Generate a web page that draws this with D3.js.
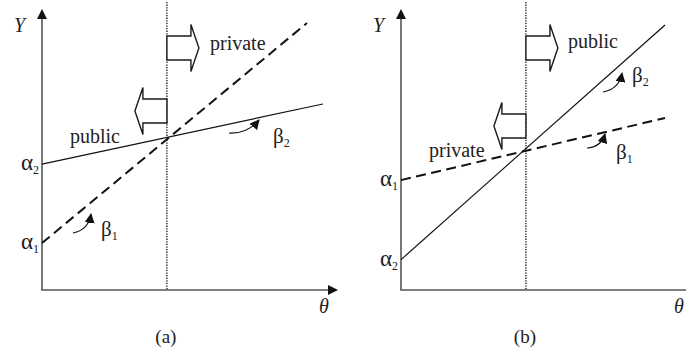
<!DOCTYPE html>
<html><head><meta charset="utf-8">
<script src="https://cdn.jsdelivr.net/npm/d3@7"></script>
<style>body{margin:0;background:#fff}svg{display:block}text{font-family:"Liberation Serif","DejaVu Serif",serif;fill:#222}</style>
</head><body>
<svg id="c" width="686" height="349"></svg>
<script>
// ---- data (θ, Y in abstract units 0..1) ----
const panels = ["(a)", "(b)"];
const thetaStar = [0.422, 0.422];
// solid line (public)
const solidLine = [
  [[0, 0.448], [0.949, 0.662]],
  [[0, 0.108], [0.892, 0.943]]
];
// dashed line (private)
const dashedLine = [
  [[0, 0.167], [0.895, 0.950]],
  [[0, 0.391], [0.892, 0.612]]
];
const solidName = ["public", "public"];
const dashedName = ["private", "private"];
const interceptLabels = [["2", "1"], ["2", "1"]]; // subscripts for solid, dashed
const slopeLabels = [["2", "1"], ["2", "1"]];

const FONT = "'Liberation Serif','DejaVu Serif',serif";
const svg = d3.select("#c");
const defs = svg.append("defs");
defs.append("marker").attr("id","ah").attr("viewBox","0 0 10 10").attr("refX",9).attr("refY",5)
  .attr("markerWidth",10).attr("markerHeight",10).attr("markerUnits","userSpaceOnUse").attr("orient","auto")
  .append("path").attr("d","M0,0 L10,5 L0,10 Z").attr("fill","#111");

const W = 296, panelX = [42, 401], yTop = 9, yBot = 290;

function txt(g, x, y, s, size, opts) {
  opts = opts || {};
  return g.append("text").attr("x", x).attr("y", y).attr("font-family", FONT).attr("font-size", size)
    .attr("font-style", opts.italic ? "italic" : "normal").attr("text-anchor", opts.anchor || "start").text(s);
}

function greek(g, x, y, ch, sub, anchor, size) {
  const t = g.append("text").attr("x", x).attr("y", y).attr("font-family", FONT).attr("font-size", size || 21).attr("text-anchor", anchor || "start");
  t.append("tspan").text(ch);
  t.append("tspan").attr("font-size", 12).attr("dy", 4).text(sub);
  return t;
}

function bigArrow(g, x0, yc, dir) {
  const bh = 12, hh = 23.5, bl = 24, hl = 8;
  const xb = x0 + dir * bl, xt = xb + dir * hl;
  const p = d3.path();
  p.moveTo(x0, yc - bh); p.lineTo(xb, yc - bh); p.lineTo(xb, yc - hh);
  p.quadraticCurveTo(xb + dir * hl * 0.55, yc - hh * 0.45, xt, yc);
  p.quadraticCurveTo(xb + dir * hl * 0.55, yc + hh * 0.45, xb, yc + hh);
  p.lineTo(xb, yc + bh); p.lineTo(x0, yc + bh); p.closePath();
  g.append("path").attr("d", p.toString()).attr("fill", "#fff").attr("stroke", "#1a1a1a").attr("stroke-width", 1.4);
}

function curvedArrow(g, x1, y1, x2, y2, bend) {
  const mx = (x1 + x2) / 2, my = (y1 + y2) / 2;
  const dx = x2 - x1, dy = y2 - y1;
  const cx = mx - dy * bend, cy = my + dx * bend;
  g.append("path").attr("d", `M${x1},${y1} Q${cx},${cy} ${x2},${y2}`)
    .attr("fill", "none").attr("stroke", "#111").attr("stroke-width", 1.2).attr("marker-end", "url(#ah)");
}

const groups = [];
panels.forEach((lab, i) => {
  const g = svg.append("g");
  groups.push(g);
  const x = d3.scaleLinear().domain([0, 1]).range([panelX[i], panelX[i] + W]);
  const y = d3.scaleLinear().domain([0, 1]).range([yBot, yTop]);
  const line = d3.line().x(d => x(d[0])).y(d => y(d[1]));

  g.append("line").attr("x1", x(thetaStar[i])).attr("x2", x(thetaStar[i]))
    .attr("y1", 2).attr("y2", y(0)).attr("stroke", "#222").attr("stroke-width", 1.4).attr("stroke-dasharray", "1.3,1.3");

  g.append("line").attr("x1", x(0)).attr("x2", x(0)).attr("y1", y(0)).attr("y2", y(1) + 9)
    .attr("stroke", "#555").attr("stroke-width", 1.6);
  g.append("path").attr("d", `M${x(0)-5},${y(1)+10} L${x(0)},${y(1)} L${x(0)+5},${y(1)+10} Z`).attr("fill", "#111");
  g.append("line").attr("x1", x(0) - 0.8).attr("x2", x(1) - 9).attr("y1", y(0)).attr("y2", y(0))
    .attr("stroke", "#555").attr("stroke-width", 1.6);
  g.append("path").attr("d", `M${x(1)-10},${y(0)-5} L${x(1)},${y(0)} L${x(1)-10},${y(0)+5} Z`).attr("fill", "#111");

  g.append("path").attr("d", line(solidLine[i])).attr("fill", "none").attr("stroke", "#111").attr("stroke-width", 1.2);
  g.append("path").attr("d", line(dashedLine[i])).attr("fill", "none").attr("stroke", "#111").attr("stroke-width", 2)
    .attr("stroke-dasharray", "10,5.5");

  const xs = x(thetaStar[i]);
  bigArrow(g, xs, 48, 1);
  bigArrow(g, xs, i === 0 ? 111 : 126, -1);

  txt(g, x(0) - 17, 32, "Y", 20, {italic: true, anchor: "end"});
  txt(g, Math.min(x(1) - 19, 674), 313, "θ", 20, {italic: true});
  txt(g, x(thetaStar[i]) - 1, 343, lab, 19, {anchor: "middle"});

  const aS = y(solidLine[i][0][1]), aD = y(dashedLine[i][0][1]);
  greek(g, x(0) - 3, aS + 6, "α", interceptLabels[i][0], "end", 23);
  greek(g, x(0) - 3, aD + 6, "α", interceptLabels[i][1], "end", 23);
});

const ga = groups[0], gb = groups[1];
txt(ga, 210, 50, dashedName[0], 20);
txt(ga, 70, 143, solidName[0], 20);
greek(ga, 273, 143, "β", slopeLabels[0][0]);
greek(ga, 101, 236, "β", slopeLabels[0][1]);
curvedArrow(ga, 229, 133, 259, 120, 0.25);
curvedArrow(ga, 73, 233, 91, 214, 0.35);

txt(gb, 568, 48, solidName[1], 20);
txt(gb, 429, 157, dashedName[1], 20);
greek(gb, 632, 82, "β", slopeLabels[1][0]);
greek(gb, 616, 159, "β", slopeLabels[1][1]);
curvedArrow(gb, 603, 92, 622, 73, 0.35);
curvedArrow(gb, 587, 148, 605, 134, 0.35);
</script>
</body></html>
